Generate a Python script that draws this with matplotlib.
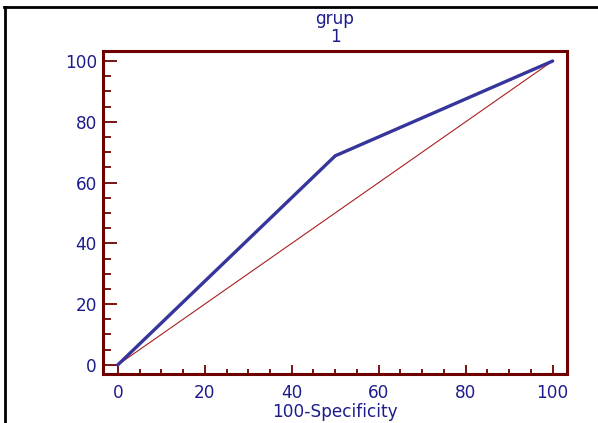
import matplotlib as mpl
mpl.use('Agg')
import matplotlib.pyplot as plt
from matplotlib.lines import Line2D
from matplotlib.ticker import MultipleLocator

# ROC curve data
fpr = [0, 50, 100]          # 100-Specificity
tpr = [0, 68.8, 100]        # Sensitivity
diag = [0, 100]

title_lines = ['grup', '1']
xlabel = '100-Specificity'
ticks = [0, 20, 40, 60, 80, 100]

plt.rcParams['font.family'] = ['DejaVu Sans']

navy = '#1c1c8c'
darkred = '#6e0000'
fs = 12.2

W, H = 598, 423
f = plt.figure(figsize=(W / 100, H / 100), dpi=100)
ax = f.add_axes([103 / W, 1 - 374 / H, 464 / W, 323 / H])

ax.plot(diag, diag, lw=0.8, color='#a82020')
ax.plot(fpr, tpr, lw=2.4, color='#35359c', solid_capstyle='round')

ax.set_xlim(-3.4, 103.3)
ax.set_ylim(-3.0, 103.3)
ax.set_xticks(ticks)
ax.set_yticks(ticks)
ax.xaxis.set_minor_locator(MultipleLocator(5))
ax.yaxis.set_minor_locator(MultipleLocator(5))

for s in ax.spines.values():
    s.set_color(darkred)
    s.set_linewidth(2.2)

ax.tick_params(which='both', direction='in', width=1.3, color=darkred,
               labelcolor=navy, labelsize=fs)
ax.tick_params(axis='x', which='major', length=6.5, pad=7.5)
ax.tick_params(axis='x', which='minor', length=3.3)
ax.tick_params(axis='y', which='major', length=10, pad=4.3)
ax.tick_params(axis='y', which='minor', length=5.8)

cx = (103 + 567) / 2 / W

# x axis label, placed by baseline
f.text(cx, 1 - 417 / H, xlabel, ha='center', va='baseline',
       color=navy, fontsize=fs)

# two-line title
f.text(cx, 1 - 24 / H, title_lines[0], ha='center', va='baseline',
       color=navy, fontsize=fs)
f.text(cx, 1 - 42 / H, title_lines[1], ha='center', va='baseline',
       color=navy, fontsize=fs)

# outer frame (left and top only)
f.add_artist(Line2D([4.7 / W, 4.7 / W], [0, 1 - 6.8 / H], color='black',
                    lw=2.0, transform=f.transFigure))
f.add_artist(Line2D([3.7 / W, 1], [1 - 6.8 / H, 1 - 6.8 / H], color='black',
                    lw=2.0, transform=f.transFigure))

f.savefig('out.png', dpi=100)
